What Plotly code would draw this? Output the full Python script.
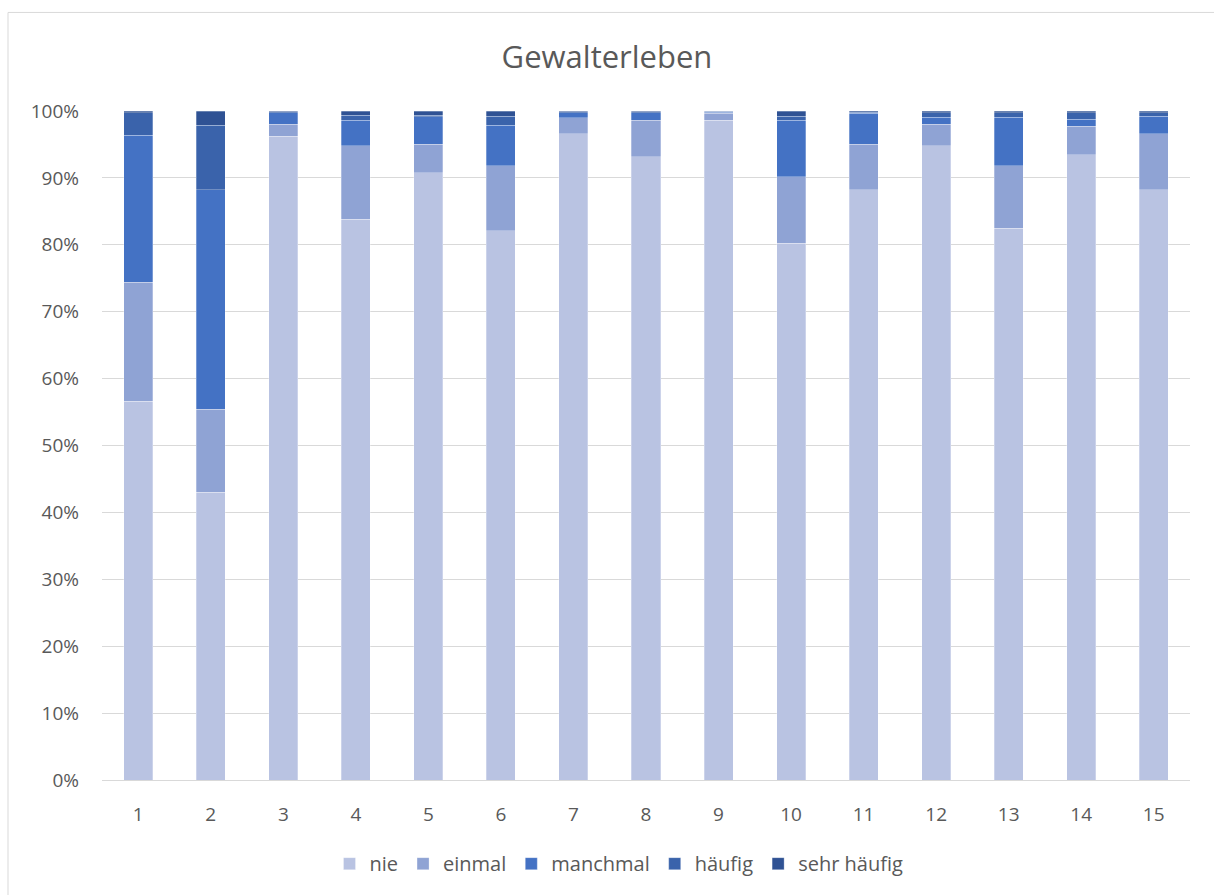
import plotly.graph_objects as go

categories = [str(i) for i in range(1, 16)]
nie         = [56.6, 43.0, 96.2, 83.8, 90.8, 82.1, 96.6, 93.15, 98.65, 80.2, 88.2, 94.8, 82.45, 93.45, 88.25]
einmal      = [17.8, 12.4, 1.8, 11.0, 4.2, 9.7, 2.4, 5.5, 1.0, 10.0, 6.8, 3.2, 9.35, 4.3, 8.35]
manchmal    = [22.0, 32.8, 1.75, 3.8, 4.15, 6.1, 0.75, 1.1, 0.2, 8.4, 4.65, 1.1, 7.3, 1.0, 2.65]
haeufig     = [3.35, 9.7, 0.15, 0.75, 0.25, 1.35, 0.15, 0.15, 0.1, 0.65, 0.15, 0.65, 0.65, 1.0, 0.5]
sehr_haeufig= [0.25, 2.1, 0.1, 0.65, 0.6, 0.75, 0.1, 0.1, 0.05, 0.75, 0.2, 0.25, 0.25, 0.25, 0.25]

series = [
    ("nie", nie, "#B9C3E2"),
    ("einmal", einmal, "#8FA3D4"),
    ("manchmal", manchmal, "#4472C4"),
    ("häufig", haeufig, "#3A63AB"),
    ("sehr häufig", sehr_haeufig, "#2F5294"),
]

fig = go.Figure()
for name, vals, col in series:
    fig.add_trace(go.Bar(
        x=categories, y=vals, name=name,
        marker=dict(color=col, line=dict(color="rgba(255,255,255,0.35)", width=0.8)),
    ))

font_family = "Open Sans, Liberation Sans, sans-serif"
fig.update_layout(
    barmode="stack",
    barnorm="percent",
    bargap=0.6,
    width=1214, height=895,
    margin=dict(l=102, r=24, t=111, b=112),
    paper_bgcolor="white", plot_bgcolor="white",
    font=dict(family=font_family, color="#595959", size=18),
    title=dict(text="Gewalterleben", x=0.5, xanchor="center", y=1 - 57/895, yanchor="middle",
               font=dict(size=31, color="#595959", family=font_family)),
    xaxis=dict(type="category", showgrid=False, showline=True, linecolor="#D9D9D9", linewidth=1,
               ticks="", ticklabelstandoff=17, tickfont=dict(size=19, color="#595959")),
    yaxis=dict(range=[0, 100], dtick=10, ticksuffix="%", showgrid=True, gridcolor="#D9D9D9",
               gridwidth=1, zeroline=False, showline=False, ticks="", ticklabelstandoff=22,
               tickfont=dict(size=19, color="#595959")),
    legend=dict(orientation="h", x=(619-102)/1088, xanchor="center", y=-(867-783)/672, yanchor="middle",
                font=dict(size=20, color="#595959"), traceorder="normal", itemwidth=30),
    shapes=[dict(type="rect", xref="paper", yref="paper",
                 x0=-94/1088, x1=1.2, y0=-0.5, y1=1 + 99/672,
                 line=dict(color="#D9D9D9", width=1), layer="below")],
)

fig.write_html("out.html")
